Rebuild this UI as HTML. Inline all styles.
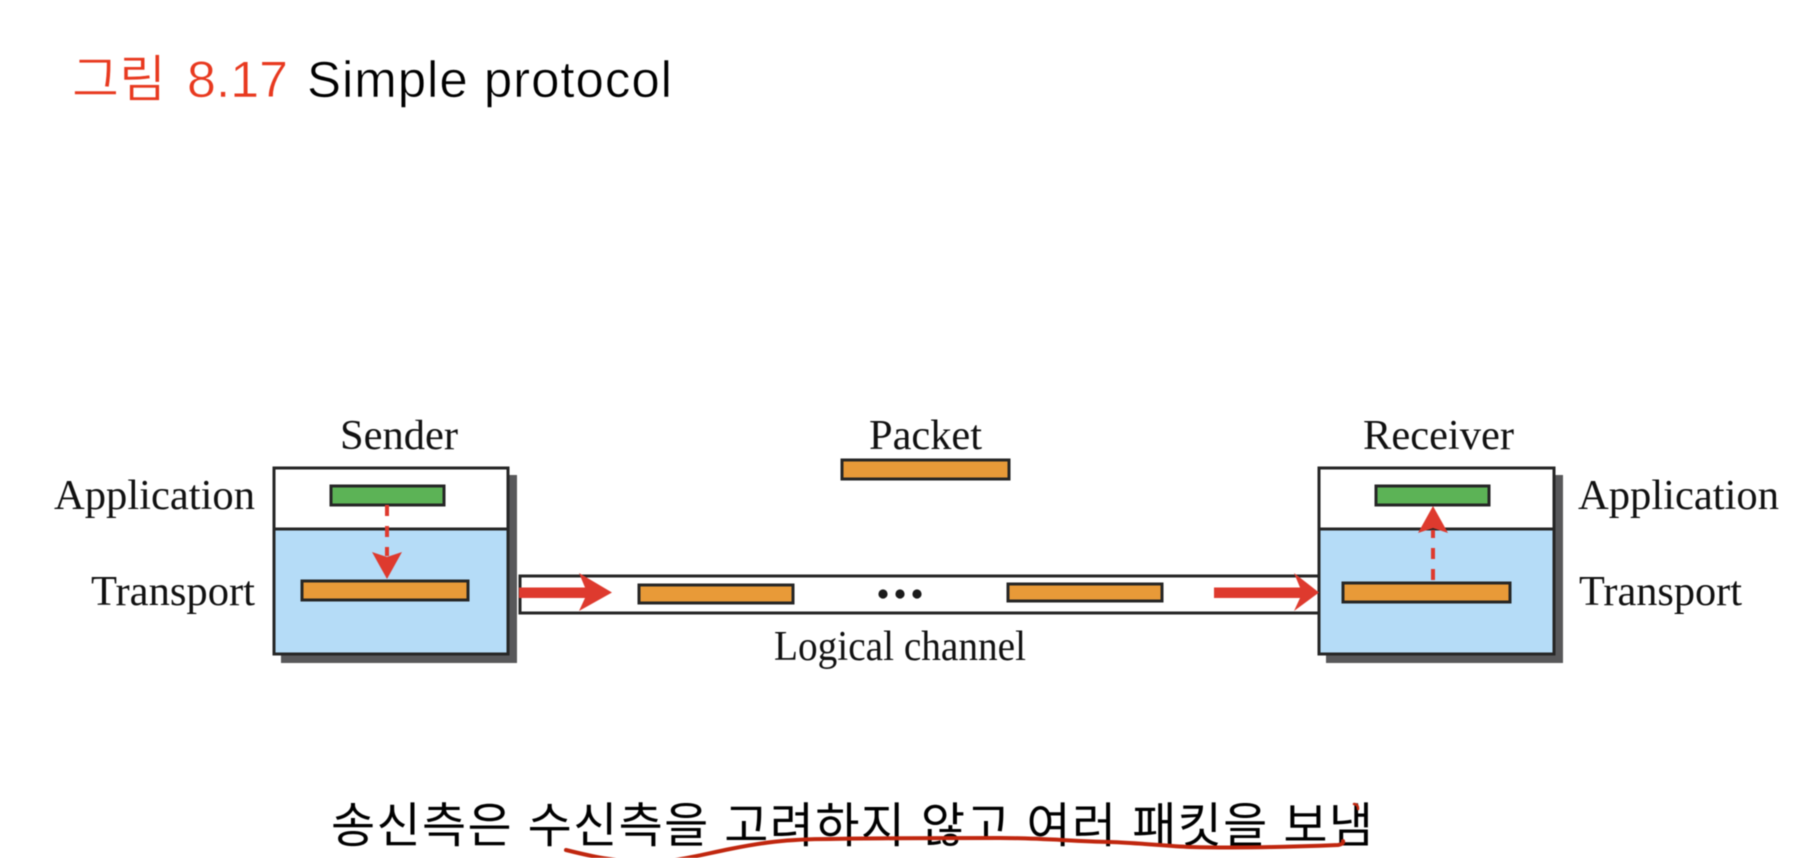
<!DOCTYPE html>
<html lang="ko">
<head>
<meta charset="utf-8">
<title>Simple protocol</title>
<style>
html,body{margin:0;padding:0;background:#fff;width:1798px;height:858px;overflow:hidden}
svg{display:block;filter:blur(0.5px)}
.s{font-family:"Liberation Serif",serif;fill:#111;font-size:42px}
.t{font-family:"Liberation Sans","Noto Sans CJK KR",sans-serif;font-size:51px;stroke:#fff;stroke-width:0.6px}
.k{font-family:"Liberation Sans","Noto Sans CJK KR",sans-serif;font-size:48px;fill:#000}
.b{stroke:#262626;stroke-width:3}
.o{fill:#e89a38}
.g{fill:#5cb356}
</style>
</head>
<body>
<svg width="1798" height="858" viewBox="0 0 1798 858" xmlns="http://www.w3.org/2000/svg">
<rect width="1798" height="858" fill="#fff"/>

<text class="t" x="72" y="97" fill="#e8391f" textLength="94" lengthAdjust="spacingAndGlyphs">그림</text>
<text class="t" x="187" y="97" fill="#e8391f" textLength="101" lengthAdjust="spacingAndGlyphs">8.17</text>
<text class="t" x="307" y="97" fill="#000" textLength="365" lengthAdjust="spacing">Simple protocol</text>

<!-- Channel -->
<rect class="b" x="520" y="576" width="799" height="37" fill="#fff"/>

<!-- Sender -->
<rect x="281" y="475" width="236" height="188" fill="#58585a"/>
<rect x="274" y="529" width="234" height="125" fill="#b5dcf7"/>
<rect x="274" y="468" width="234" height="61" fill="#fff"/>
<rect class="b" x="274" y="468" width="234" height="186" fill="none"/>
<line class="b" x1="274" y1="529" x2="508" y2="529"/>
<rect class="b g" x="331" y="486" width="113" height="19"/>
<rect class="b o" x="302" y="581" width="166" height="19"/>
<line x1="387" y1="505" x2="387" y2="556" stroke="#de3a2e" stroke-width="4" stroke-dasharray="11 10"/>
<polygon points="372,552 387,557 402,552 387,579" fill="#de3a2e"/>

<!-- Receiver -->
<rect x="1326" y="475" width="237" height="188" fill="#58585a"/>
<rect x="1319" y="529" width="235" height="125" fill="#b5dcf7"/>
<rect x="1319" y="468" width="235" height="61" fill="#fff"/>
<rect class="b" x="1319" y="468" width="235" height="186" fill="none"/>
<line class="b" x1="1319" y1="529" x2="1554" y2="529"/>
<rect class="b g" x="1376" y="486" width="113" height="19"/>
<rect class="b o" x="1343" y="583" width="167" height="19"/>
<line x1="1433" y1="580" x2="1433" y2="530" stroke="#de3a2e" stroke-width="4" stroke-dasharray="11 10"/>
<polygon points="1418,533 1433,528 1448,533 1433,506" fill="#de3a2e"/>

<!-- Packets -->
<rect class="b o" x="842" y="460" width="167" height="19"/>
<rect class="b o" x="639" y="585" width="154" height="18"/>
<rect class="b o" x="1008" y="584" width="154" height="17"/>
<circle cx="883" cy="594" r="4.6" fill="#1a1a1a"/>
<circle cx="900" cy="594" r="4.6" fill="#1a1a1a"/>
<circle cx="917" cy="594" r="4.6" fill="#1a1a1a"/>

<!-- Red arrows -->
<polygon points="519,587.5 585,587.5 579,573 612,592.5 579,611 585,598 519,598" fill="#de3a2e"/>
<polygon points="1214,587.5 1300,587.5 1294,573 1319,592.5 1294,611 1300,598 1214,598" fill="#de3a2e"/>

<!-- Labels -->
<text class="s" x="340" y="449" textLength="118" lengthAdjust="spacingAndGlyphs">Sender</text>
<text class="s" x="54" y="509" textLength="201" lengthAdjust="spacingAndGlyphs">Application</text>
<text class="s" x="91" y="605" textLength="164" lengthAdjust="spacingAndGlyphs">Transport</text>
<text class="s" x="869" y="449" textLength="113" lengthAdjust="spacingAndGlyphs">Packet</text>
<text class="s" x="774" y="660" textLength="252" lengthAdjust="spacingAndGlyphs">Logical channel</text>
<text class="s" x="1363" y="449" textLength="151" lengthAdjust="spacingAndGlyphs">Receiver</text>
<text class="s" x="1578" y="509" textLength="201" lengthAdjust="spacingAndGlyphs">Application</text>
<text class="s" x="1579" y="605" textLength="163" lengthAdjust="spacingAndGlyphs">Transport</text>

<!-- Bottom caption -->
<text class="k" x="331" y="842" textLength="1042" lengthAdjust="spacing">송신측은 수신측을 고려하지 않고 여러 패킷을 보냄</text>

<!-- Hand-drawn underline -->
<path d="M566,850 C590,856 615,862 650,862 C675,862 700,855 730,849 C760,843 785,839 830,839 C880,838 950,838 1000,838 C1040,838 1070,841 1110,842 C1140,843 1165,846 1190,847 C1230,848 1290,847 1338,845 Q1344,844 1343,841" fill="none" stroke="#c0260e" stroke-width="4" stroke-linecap="round"/>
<path d="M1354,804 Q1358,804 1358,809" fill="none" stroke="#c0260e" stroke-width="2.5" stroke-linecap="round"/>
</svg>
</body>
</html>
